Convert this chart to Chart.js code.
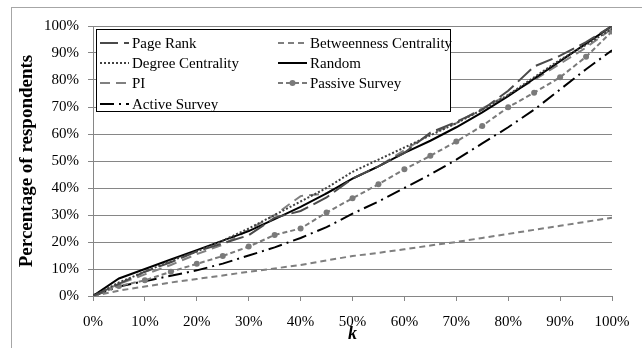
<!DOCTYPE html>
<html>
<head>
<meta charset="utf-8">
<script src="https://cdn.jsdelivr.net/npm/chart.js@4.4.0/dist/chart.umd.min.js"></script>
<style>
  html, body { margin: 0; padding: 0; background: #fff; }
  #wrap { width: 642px; height: 348px; position: relative; }
</style>
</head>
<body>
<div id="wrap"><canvas id="chart" width="642" height="348"></canvas></div>
<script>
// share of nodes chosen (k), in percent
const kValues = [0, 5, 10, 15, 20, 25, 30, 35, 40, 45, 50, 55, 60, 65, 70, 75, 80, 85, 90, 95, 100];

const pageRank      = [0, 4.5, 9, 12.5, 16.5, 19.5, 22.5, 29, 31.5, 36.5, 43.5, 48, 53, 60.5, 64.5, 69, 76, 85, 89, 94, 100];
const betweenness   = [0, 2, 3.5, 5, 6.3, 7.6, 9, 10.2, 11.5, 13.2, 14.8, 16, 17.3, 18.7, 20, 21.5, 23, 24.5, 26, 27.5, 29];
const degree        = [0, 5, 9, 13, 16.5, 20.5, 25, 30, 35, 40, 46, 50.5, 55, 59.5, 64, 69, 74.5, 81, 87.5, 93, 99];
const random        = [0, 6.5, 10, 13.5, 17, 20.5, 24, 28.5, 33, 38, 43.5, 48, 53, 57.5, 62.5, 68, 74, 80.5, 87, 93.5, 100];
const pi            = [0, 4.5, 8, 11.5, 15.5, 19, 24.5, 30, 37, 38, 43.5, 48, 54, 60, 64, 69.5, 74.5, 80, 86, 92, 99];
const passiveSurvey = [0, 3.7, 5.8, 9, 11.9, 14.8, 18.3, 22.6, 25, 30.9, 36.2, 41.4, 46.9, 51.9, 57.2, 63, 69.9, 75.3, 81, 88.6, 98];
const activeSurvey  = [0, 3.5, 5.5, 7.5, 9.5, 12, 15, 18, 21.5, 25.5, 30.5, 35, 40, 45, 50.5, 56.5, 62.5, 69, 76.5, 84, 91];

const yTicks = [0, 10, 20, 30, 40, 50, 60, 70, 80, 90, 100];

const serif = "'Liberation Serif', 'Times New Roman', serif";

function pts(arr) {
	return kValues.map((k, i) => ({ x: k, y: arr[i] }));
}

function line(label, data, color, dash, extra) {
	return Object.assign({
		label: label,
		data: pts(data),
		borderColor: color,
		backgroundColor: color,
		borderWidth: 2,
		borderDash: dash,
		pointRadius: 0,
		tension: 0,
		fill: false,
	}, extra || {});
}

const datasets = [
	line('Page Rank', pageRank, '#4a4a4a', [18, 6]),
	line('Betweenness Centrality', betweenness, '#7f7f7f', [6, 4]),
	line('Degree Centrality', degree, '#404040', [2, 2]),
	line('Random', random, '#000000', []),
	line('PI', pi, '#808080', [10, 6]),
	line('Passive Survey', passiveSurvey, '#7a7a7a', [5, 3], { pointRadius: 3, pointBorderWidth: 0, pointBackgroundColor: '#7a7a7a' }),
	line('Active Survey', activeSurvey, '#000000', [14, 5, 2, 5]),
];

// legend box drawn inside the plot, two columns like the original
const legendBox = {
	id: 'legendBox',
	afterDatasetsDraw(chart) {
		const ctx = chart.ctx;
		const bx = 96.5, by = 29.5, bw = 354, bh = 82;
		const cols = [100, 278];
		const rows = [43, 63, 83, 104];
		ctx.save();
		ctx.fillStyle = '#fff';
		ctx.fillRect(bx, by, bw, bh);
		ctx.strokeStyle = '#000';
		ctx.lineWidth = 1;
		ctx.setLineDash([]);
		ctx.strokeRect(bx, by, bw, bh);
		chart.data.datasets.forEach((ds, i) => {
			const x = cols[i % 2];
			const y = rows[Math.floor(i / 2)];
			ctx.strokeStyle = ds.borderColor;
			ctx.lineWidth = ds.borderWidth;
			ctx.setLineDash(ds.borderDash);
			ctx.beginPath();
			ctx.moveTo(x, y);
			ctx.lineTo(x + 29, y);
			ctx.stroke();
			if (ds.pointRadius) {
				ctx.fillStyle = ds.pointBackgroundColor;
				ctx.beginPath();
				ctx.arc(x + 14.5, y, ds.pointRadius, 0, Math.PI * 2);
				ctx.fill();
			}
			ctx.setLineDash([]);
			ctx.fillStyle = '#000';
			ctx.font = '15px ' + serif;
			ctx.textBaseline = 'middle';
			ctx.textAlign = 'left';
			ctx.fillText(ds.label, x + 32, y + 1);
		});
		ctx.restore();
	},
};

// white page with the thin grey frame of the original
const frame = {
	id: 'frame',
	beforeDraw(chart) {
		const ctx = chart.ctx;
		ctx.save();
		ctx.fillStyle = '#fff';
		ctx.fillRect(0, 0, chart.width, chart.height);
		ctx.strokeStyle = '#a6a6a6';
		ctx.lineWidth = 1;
		ctx.strokeRect(11.5, 7.5, 700, 400);
		ctx.restore();
	},
};

const config = {
	type: 'line',
	data: { datasets: datasets },
	options: {
		responsive: false,
		animation: false,
		layout: { padding: { top: 26, right: 30, left: 0, bottom: 0 } },
		plugins: {
			legend: { display: false },
			tooltip: { enabled: false },
		},
		scales: {
			x: {
				type: 'linear',
				min: 0,
				max: 100,
				afterFit(scale) { scale.height = 52; },
				ticks: {
					stepSize: 10,
					autoSkip: false,
					maxRotation: 0,
					padding: 12,
					color: '#000',
					font: { family: serif, size: 15 },
					callback: (v) => v + '%',
				},
				grid: { drawOnChartArea: false, color: '#868686', tickLength: 5 },
				border: { color: '#868686' },
				title: {
					display: true,
					text: 'k',
					color: '#000',
					font: { family: serif, size: 18, weight: 'bold', style: 'italic' },
					padding: { top: 0, bottom: 3 },
				},
			},
			y: {
				min: 0,
				max: 100,
				afterFit(scale) { scale.width = 93; },
				afterBuildTicks(scale) { scale.ticks = yTicks.map((v) => ({ value: v })); },
				ticks: {
					padding: 9,
					color: '#000',
					font: { family: serif, size: 15 },
					callback: (v) => v + '%',
				},
				grid: { color: '#868686', tickLength: 5 },
				border: { color: '#868686' },
				title: {
					display: true,
					text: 'Percentage of respondents',
					color: '#000',
					font: { family: serif, size: 19, weight: 'bold' },
					padding: { top: 16, bottom: 0 },
				},
			},
		},
	},
	plugins: [frame, legendBox],
};

new Chart(document.getElementById('chart'), config);
</script>
</body>
</html>
